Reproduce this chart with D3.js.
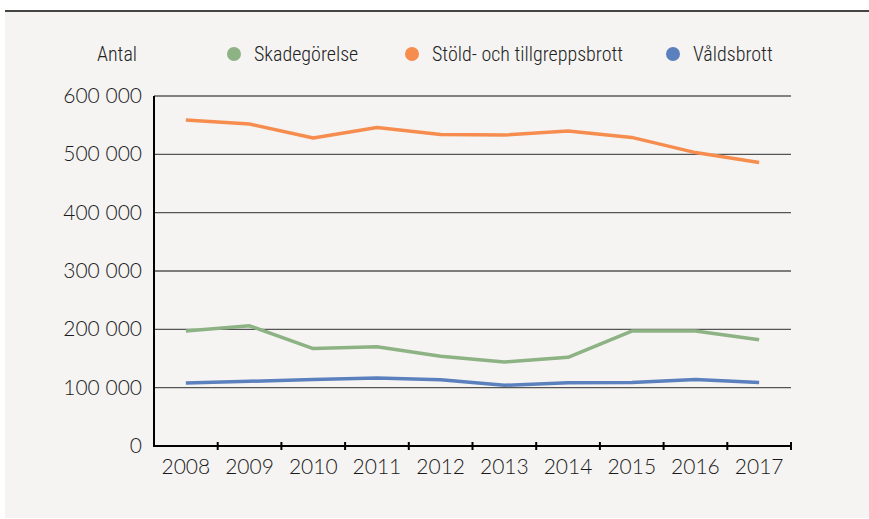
<!DOCTYPE html>
<html>
<head>
<meta charset="utf-8">
<script src="https://cdn.jsdelivr.net/npm/d3@7"></script>
<style>
  body { margin: 0; background: #fff; }
  svg { display: block; }
  .tick-lbl { font-family: Lato, "Open Sans", sans-serif; font-weight: 300; font-size: 21px; fill: #1a1a1a; }
  .leg { font-family: "Liberation Sans Narrow", "Roboto Condensed", "DejaVu Sans Condensed", sans-serif; font-weight: 300; font-size: 20px; fill: #222; }
</style>
</head>
<body>
<script>
// data
var years = ["2008","2009","2010","2011","2012","2013","2014","2015","2016","2017"];
var skadegorelse = [197000, 206000, 167000, 170000, 154000, 144000, 152000, 197000, 197000, 182000];
var stold = [559000, 552000, 528000, 546000, 534000, 533000, 540000, 529000, 503000, 486000];
var valdsbrott = [108000, 111000, 114000, 116500, 113700, 104000, 108500, 109000, 114000, 109000];
var yTicks = [0, 100000, 200000, 300000, 400000, 500000, 600000];
var seriesNames = ["Skadegörelse", "Stöld- och tillgreppsbrott", "Våldsbrott"];
var colors = ["#8db284", "#f68d4f", "#5b80be"];

var W = 869, H = 519;
var svg = d3.select("body").append("svg").attr("width", W).attr("height", H);

// panel
svg.append("rect").attr("x", 5).attr("y", 11).attr("width", W - 5).attr("height", 507).attr("fill", "#f5f4f2");
svg.append("line").attr("x1", 5).attr("x2", W).attr("y1", 11).attr("y2", 11)
  .attr("stroke", "#444").attr("stroke-width", 2);

var x = d3.scaleBand().domain(years).range([154, 791]);
var y = d3.scaleLinear().domain([0, 600000]).range([446, 96]);

var loc = d3.formatLocale({decimal: ",", thousands: " ", grouping: [3], currency: ["", ""]});
var fmt = loc.format(",");

// gridlines
svg.selectAll(".grid").data(yTicks.filter(d => d > 0)).enter().append("line")
  .attr("x1", 154).attr("x2", 791)
  .attr("y1", d => y(d)).attr("y2", d => y(d))
  .attr("stroke", d => d === 600000 ? "#111" : "#555")
  .attr("stroke-width", d => d === 600000 ? 1.2 : 1.4);

// y labels
svg.selectAll(".ylbl").data(yTicks).enter().append("text")
  .attr("class", "tick-lbl")
  .attr("x", 142).attr("y", d => y(d) + 7)
  .attr("text-anchor", "end")
  .text(d => fmt(d));

// axes
svg.append("line").attr("x1", 154).attr("x2", 154).attr("y1", 96).attr("y2", 446.5)
  .attr("stroke", "#000").attr("stroke-width", 2);
svg.append("line").attr("x1", 153).attr("x2", 792).attr("y1", 446).attr("y2", 446)
  .attr("stroke", "#000").attr("stroke-width", 2);

var bounds = years.map(d => x(d) + x.bandwidth());
svg.selectAll(".xt").data(bounds).enter().append("line")
  .attr("x1", d => d).attr("x2", d => d).attr("y1", 442).attr("y2", 450)
  .attr("stroke", "#000").attr("stroke-width", 2);

svg.selectAll(".xlbl").data(years).enter().append("text")
  .attr("class", "tick-lbl")
  .attr("x", d => x(d) + x.bandwidth() / 2).attr("y", 474)
  .attr("text-anchor", "middle")
  .text(d => d);

// lines
var line = d3.line().x((d, i) => x(years[i]) + x.bandwidth() / 2).y(d => y(d));
[skadegorelse, stold, valdsbrott].forEach(function (s, k) {
  svg.append("path").datum(s).attr("d", line)
    .attr("fill", "none").attr("stroke", colors[k]).attr("stroke-width", 3.5)
    .attr("stroke-linejoin", "round");
});

// legend
svg.append("text").attr("class", "leg").attr("x", 97).attr("y", 61).text("Antal");
var legX = [234, 412, 673];
seriesNames.forEach(function (n, k) {
  svg.append("circle").attr("cx", legX[k]).attr("cy", 54).attr("r", 7).attr("fill", colors[k]);
  svg.append("text").attr("class", "leg").attr("x", legX[k] + 20).attr("y", 61).text(n);
});
</script>
</body>
</html>
